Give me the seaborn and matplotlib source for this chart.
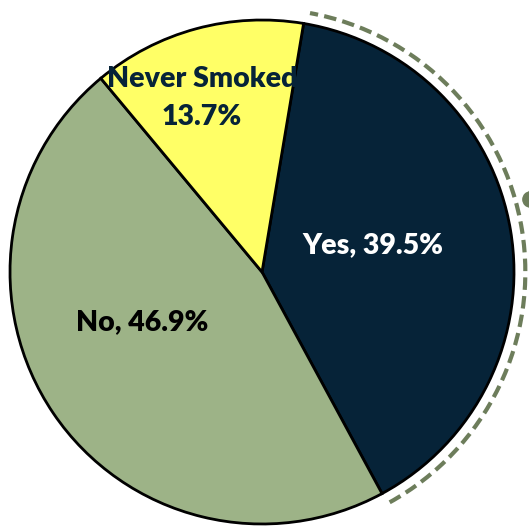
import matplotlib
matplotlib.use("Agg")
import matplotlib.pyplot as plt
import seaborn as sns
from matplotlib.patches import Arc

# data
labels = ["Yes", "No", "Never Smoked"]
shares = [39.5, 46.9, 13.7]
colors = ["#062338", "#9db387", "#ffff66"]

sns.set_style("white")
plt.rcParams["font.family"] = ["Lato", "DejaVu Sans"]

fig = plt.figure(figsize=(5.29, 5.28), dpi=100)
ax = fig.add_axes([0, 0, 1, 1])

ax.pie(shares, colors=colors, startangle=80.5, counterclock=False,
       radius=1.0, wedgeprops=dict(edgecolor="black", linewidth=2))

# labels placed inside each slice
font = dict(fontsize=20.5, fontweight="heavy", ha="center", va="center")
ax.text(0.44, 0.107, f"{labels[0]}, {shares[0]}%", color="white", **font)
ax.text(-0.476, -0.198, f"{labels[1]}, {shares[1]}%", color="black", **font)
ax.text(-0.238, 0.69, f"{labels[2]}\n{shares[2]}%", color="#062338",
        linespacing=1.55, **font)

# dashed bracket arc around the "Yes" slice
arc_color = "#6d7d5b"
ax.add_patch(Arc((0, 0), 2.09, 2.09, theta1=-61, theta2=79.5,
                 color=arc_color, lw=3, linestyle=(0, (3, 1.5))))
ax.plot([1.062], [0.29], marker="o", ms=11, color=arc_color, clip_on=False)
ax.plot([1.062, 1.07], [0.29, 0.45], color=arc_color, lw=2, clip_on=False)

ax.set_xlim(-1.0397, 1.0595)
ax.set_ylim(-1.0159, 1.0794)
ax.set_aspect("auto")
ax.axis("off")

fig.savefig("out.png", dpi=100)
